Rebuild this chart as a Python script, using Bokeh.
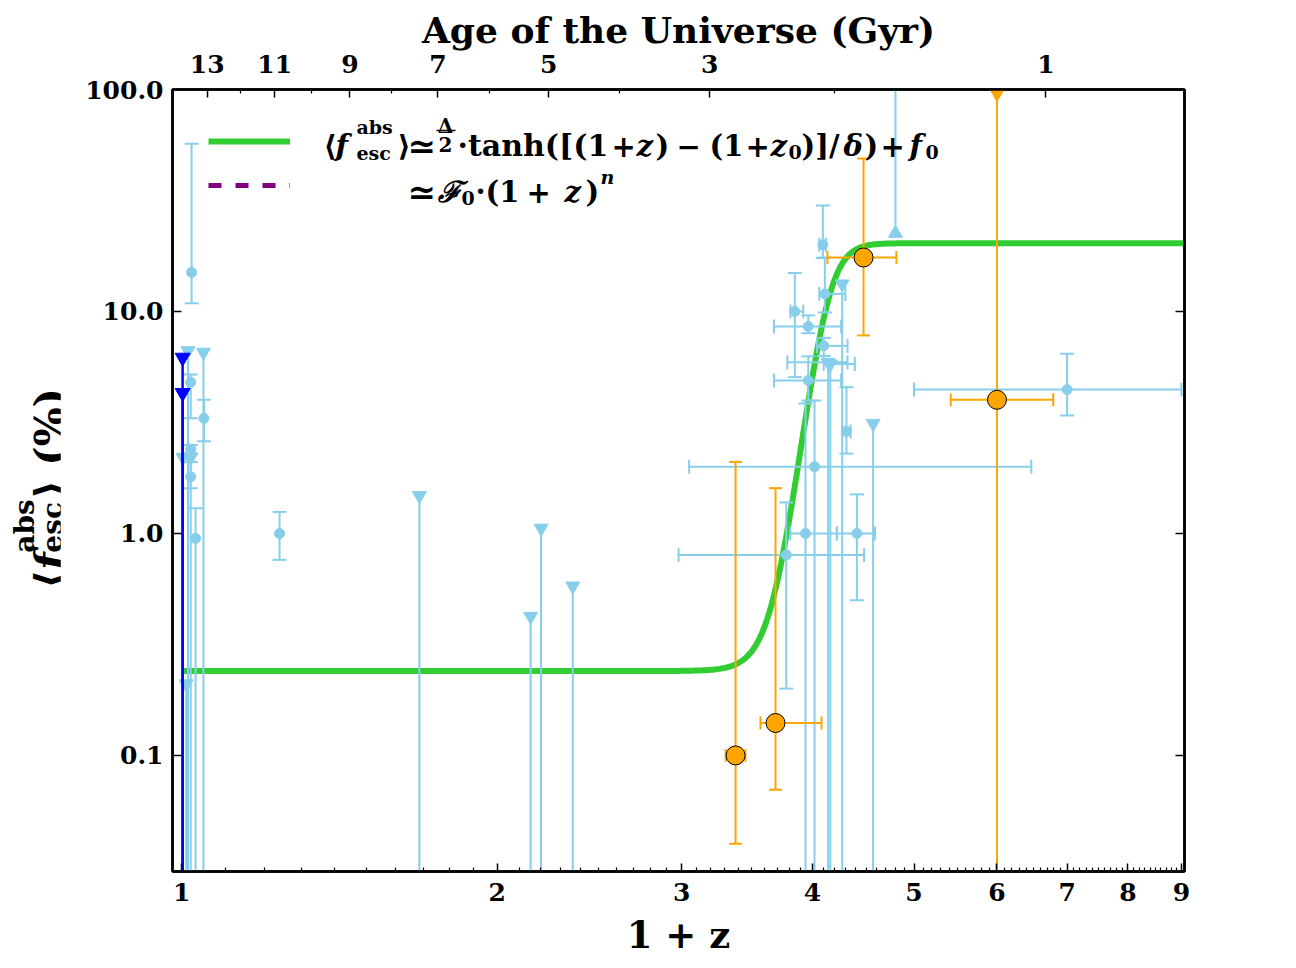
import numpy as np
from bokeh.plotting import figure
from bokeh.models import (Range1d, LogAxis, FixedTicker, Label, Legend, LegendItem, Arrow, Div)
from bokeh.layouts import row
from bokeh.embed import file_html
from bokeh.resources import INLINE

nan = float("nan")

# ---------------- data ----------------
# light-blue measurements (1+z, f_esc %, lower/upper y, lower/upper x)
lb_x   = [1.022, 1.020, 1.050, 1.020, 1.020, 1.031, 1.24, 4.092, 4.11, 3.848, 3.963, 4.10, 3.963, 4.31, 4.018, 3.776, 3.939, 4.41, 7.0]
lb_y   = [15.0, 4.8, 3.3, 2.4, 1.8, 0.95, 1.0, 20.0, 12.0, 10.0, 8.56, 7.0, 4.89, 2.88, 2.0, 0.8, 1.0, 1.0, 4.45]
lb_ylo = [10.9, 3.3, 2.6, 2.3, 1.6, 0.01, 0.76, 17.4, 9.9, 5.06, 7.98, 6.3, 3.97, 2.29, 0.01, 0.2, 0.01, 0.5, 3.4]
lb_yhi = [57.0, 5.2, 4.0, 2.5, 2.1, 1.3, 1.25, 30.0, 17.5, 14.9, 9.6, 7.6, 6.28, 4.56, 3.97, 1.38, 3.85, 1.5, 6.45]
lb_xlo = [nan, nan, nan, nan, nan, nan, nan, 4.06, 4.06, 3.81, 3.675, 4.04, 3.675, 4.27, 3.05, 2.98, 3.81, 4.22, 5.0]
lb_xhi = [nan, nan, nan, nan, nan, nan, nan, 4.12, 4.30, 3.92, 4.26, 4.32, 4.26, 4.35, 6.47, 4.48, 4.22, 4.59, 9.0]

# light-blue upper limits
lb_ul_x   = [1.003, 1.014, 1.049, 1.020, 1.010, 1.686, 2.153, 2.203, 2.362, 4.14, 4.16, 4.27, 4.57]
lb_ul_y   = [2.2, 6.65, 6.55, 2.2, 0.21, 1.48, 0.423, 1.056, 0.579, 5.9, 5.8, 13.3, 3.13]
lb_ul_xlo = [nan, nan, nan, nan, nan, nan, nan, nan, nan, 3.785, 4.10, nan, nan]
lb_ul_xhi = [nan, nan, nan, nan, nan, nan, nan, nan, nan, 4.32, 4.39, nan, nan]

# light-blue lower limit
lb_ll_x = [4.80]
lb_ll_y = [22.5]

# blue upper limits
blue_ul_x = [1.002, 1.002]
blue_ul_y = [6.2, 4.3]

# orange points
or_x   = [3.378, 3.688, 4.475, 6.0]
or_y   = [0.10, 0.14, 17.5, 4.0]
or_ylo = [0.04, 0.07, 7.8, nan]
or_yhi = [2.1, 1.6, 48.9, nan]
or_xlo = [3.305, 3.568, 4.134, 5.42]
or_xhi = [3.452, 4.08, 4.81, 6.79]
or_ul_x = [6.0]
or_ul_y = [96.0]

# tanh model parameters
TANH_DELTA = 20.06
TANH_F0 = 10.27
TANH_ZP1_0 = 4.12
TANH_WIDTH = 0.21

# axes
x_ticks = [1, 2, 3, 4, 5, 6, 7, 8, 9]
x_tick_labels = ["1", "2", "3", "4", "5", "6", "7", "8", "9"]
y_ticks = [0.1, 1.0, 10.0, 100.0]
y_tick_labels = ["0.1", "1.0", "10.0", "100.0"]
age_major = [13, 11, 9, 7, 5, 3, 1]
age_minor = [12, 10, 8, 6, 4, 2]
H0, OM, OL = 67.7, 0.31, 0.69

# ---------------- helpers ----------------
LB = "#87CEEB"; BLUE = "#0000FF"; ORANGE = "#FFA500"; GREEN = "#32CD32"; PURPLE = "#800080"
FONT = "DejaVu Serif"
Y_MIN, Y_MAX = 0.03, 100.0
X_MIN, X_MAX = 0.98, 9.06
DIV_W = 60
H_TOTAL = 963


def zp1_of_age(t):
    tH = 977.8 / H0
    a32 = np.sqrt(OM / OL) * np.sinh(1.5 * np.sqrt(OL) * np.asarray(t, float) / tH)
    return a32 ** (-2.0 / 3.0)


def arr(a):
    return np.asarray(a, dtype=float)


p = figure(width=1288 - DIV_W, height=H_TOTAL, x_axis_type="log", y_axis_type="log",
           x_range=Range1d(X_MIN, X_MAX), y_range=Range1d(Y_MIN, Y_MAX),
           output_backend="svg", toolbar_location=None,
           min_border_left=172 - DIV_W, min_border_right=104, min_border_top=89, min_border_bottom=92)
p.margin = 0
p.xgrid.visible = False
p.ygrid.visible = False
p.outline_line_color = "black"
p.outline_line_width = 2.5
p.background_fill_color = "white"

# ---- model curve
zz = np.geomspace(1.0, X_MAX, 600)
ff = TANH_DELTA / 2 * np.tanh((zz - TANH_ZP1_0) / TANH_WIDTH) + TANH_F0
green = p.line(zz, ff, line_color=GREEN, line_width=6)
purple = p.line([nan, nan], [nan, nan], line_color=PURPLE, line_width=5, line_dash="13 14")


def errbars(x, y, ylo, yhi, xlo, xhi, color, lw=2, cap=14):
    x, y, ylo, yhi, xlo, xhi = map(arr, (x, y, ylo, yhi, xlo, xhi))
    m = ~np.isnan(ylo)
    if m.any():
        p.segment(x[m], ylo[m], x[m], yhi[m], line_color=color, line_width=lw)
        p.scatter(np.r_[x[m], x[m]], np.r_[ylo[m], yhi[m]], marker="dash", size=cap,
                  line_color=color, line_width=lw)
    m = ~np.isnan(xlo)
    if m.any():
        p.segment(xlo[m], y[m], xhi[m], y[m], line_color=color, line_width=lw)
        p.scatter(np.r_[xlo[m], xhi[m]], np.r_[y[m], y[m]], marker="dash", size=cap,
                  angle=np.pi / 2, line_color=color, line_width=lw)


def limits(x, y, color, upper=True, lw=2, size=14, xlo=None, xhi=None):
    x, y = arr(x), arr(y)
    end = np.full_like(y, Y_MIN if upper else Y_MAX)
    p.segment(x, y, x, end, line_color=color, line_width=lw)
    if xlo is not None:
        xlo, xhi = arr(xlo), arr(xhi)
        m = ~np.isnan(xlo)
        p.segment(xlo[m], y[m], xhi[m], y[m], line_color=color, line_width=lw)
        p.scatter(np.r_[xlo[m], xhi[m]], np.r_[y[m], y[m]], marker="dash", size=14,
                  angle=np.pi / 2, line_color=color, line_width=lw)
    p.scatter(x, y, marker="inverted_triangle" if upper else "triangle", size=size,
              fill_color=color, line_color=color)


# ---- light blue
errbars(lb_x, lb_y, lb_ylo, lb_yhi, lb_xlo, lb_xhi, LB)
limits(lb_ul_x, lb_ul_y, LB, True, xlo=lb_ul_xlo, xhi=lb_ul_xhi)
limits(lb_ll_x, lb_ll_y, LB, False)
p.scatter(lb_x, lb_y, marker="circle", size=10, fill_color=LB, line_color=LB)

# ---- blue
limits(blue_ul_x, blue_ul_y, BLUE, True, lw=2.5, size=15)

# ---- orange
limits(or_ul_x, or_ul_y, ORANGE, True, size=14)
errbars(or_x, or_y, or_ylo, or_yhi, or_xlo, or_xhi, ORANGE, lw=2, cap=13)
p.scatter(or_x, or_y, marker="circle", size=19, fill_color=ORANGE, line_color="black", line_width=1)

# ---------------- axes ----------------
def style_axis(ax):
    ax.axis_line_width = 2.5
    ax.axis_line_color = "black"
    ax.major_tick_in = 9
    ax.major_tick_out = 0
    ax.minor_tick_in = 4
    ax.minor_tick_out = 0
    ax.major_tick_line_width = 1.5
    ax.minor_tick_line_width = 1.2
    ax.major_label_text_font = FONT
    ax.major_label_text_font_style = "bold"
    ax.major_label_text_font_size = "25px"
    ax.major_label_text_color = "black"
    ax.axis_label_text_color = "black"
    ax.axis_label_text_font = FONT
    ax.axis_label_text_font_style = "bold"


xa = p.xaxis[0]
xa.ticker = FixedTicker(ticks=x_ticks,
                        minor_ticks=[i / 10 for i in range(11, 90) if i % 10 != 0])
xa.major_label_overrides = {float(t): s for t, s in zip(x_ticks, x_tick_labels)}
style_axis(xa)
xa.major_tick_in = 8
xa.major_label_standoff = 11
xa.axis_label = "1 + z"
xa.axis_label_text_font_size = "37px"
xa.axis_label_standoff = 9

ya = p.yaxis[0]
ya.ticker = FixedTicker(ticks=y_ticks, minor_ticks=[])
ya.major_label_overrides = {float(t): s for t, s in zip(y_ticks, y_tick_labels)}
style_axis(ya)
ya.major_label_standoff = 9

yr = LogAxis(ticker=FixedTicker(ticks=y_ticks, minor_ticks=[]),
             major_label_overrides={float(t): "" for t in y_ticks})
style_axis(yr)
p.add_layout(yr, "right")

age_pos_major = [float(v) for v in zp1_of_age(age_major)]
age_pos_minor = [float(v) for v in zp1_of_age(age_minor)]
top = LogAxis(ticker=FixedTicker(ticks=age_pos_major, minor_ticks=age_pos_minor),
              major_label_overrides={pos: str(a) for pos, a in zip(age_pos_major, age_major)})
style_axis(top)
top.major_tick_in = 8
top.major_label_standoff = 17
top.axis_label = "Age of the Universe (Gyr)"
top.axis_label_text_font_size = "36px"
top.axis_label_standoff = 1
p.add_layout(top, "above")

# ---------------- legend ----------------
legend = Legend(items=[LegendItem(label=" ", renderers=[green]),
                       LegendItem(label=" ", renderers=[purple])],
                location="top_left", margin=36, padding=0, spacing=12,
                glyph_width=82, glyph_height=32, label_text_font_size="8px",
                label_standoff=0, background_fill_alpha=0, border_line_alpha=0)
p.add_layout(legend)

FL, FB = 172, 871  # frame left / bottom in page pixels
M = 29  # legend main text size
S = 19  # legend script size


def txt(s, px, py, size, style="bold", align="left"):
    p.add_layout(Label(x=px - FL, y=FB - py, x_units="screen", y_units="screen", text=s,
                       text_font=FONT, text_font_size=f"{size}px", text_font_style=style,
                       text_color="black", text_align=align, text_baseline="alphabetic"))


# legend line 1
B1 = 145
txt("\u27e8", 323, B1, M)
txt("f", 335, B1, M, "bold italic")
txt("abs", 356, B1 - 19, S)
txt("esc", 356, B1 + 7, S)
txt("\u27e9", 397, B1, M)
txt("\u2243", 407, B1, 34)
txt("\u0394", 445, B1 - 20, 20, align="center")
p.add_layout(Arrow(end=None, x_start=436 - FL, y_start=FB - (B1 - 15), x_end=455 - FL,
                   y_end=FB - (B1 - 15), start_units="screen", end_units="screen",
                   line_width=1.5, line_color="black"))
txt("2", 445, B1 - 1, 20, align="center")
txt("\u00b7tanh([(1", 457, B1, 30)
txt("+", 611, B1, M)
txt("z", 636, B1, M, "bold italic")
txt(")", 655, B1, M)
txt("\u2212", 676, B1, M)
txt("(1", 709, B1, M)
txt("+", 745, B1, M)
txt("z", 770, B1, M, "bold italic")
txt("0", 788, B1 + 6, S)
txt(")]/", 801, B1, M)
txt("\u03b4", 843, B1, M, "bold italic")
txt(")", 864, B1, M)
txt("+", 880, B1, M)
txt("f", 909, B1, M, "bold italic")
txt("0", 925, B1 + 6, S)

# legend line 2
B2 = 191
txt("\u2243", 407, B2, 34)
txt("\u2131", 437, B2, M, "bold italic")
txt("0", 461, B2 + 6, S)
txt("\u00b7(1", 475, B2, M)
txt("+", 526, B2, M)
txt("z", 564, B2, M, "bold italic")
txt(")", 585, B2, M)
txt("n", 600, B2 - 15, S, "bold italic")

# ---------------- y-axis label (HTML, rotated) ----------------
ylab_html = (
    '<div style="width:' + str(DIV_W) + 'px;height:' + str(H_TOTAL) + 'px;display:flex;'
    'align-items:center;justify-content:center;padding-top:14px;padding-left:22px;'
    'box-sizing:border-box;">'
    '<div style="writing-mode:vertical-rl;transform:rotate(180deg);white-space:nowrap;'
    "font-family:'DejaVu Serif';font-weight:bold;font-size:41px;color:#000;line-height:1;\">"
    '\u27e8<i>f</i><span style="display:inline-block;font-size:28px;line-height:1.0;'
    'vertical-align:middle;">abs<br>esc</span>\u27e9&nbsp;(%)</div></div>')
ylab = Div(text=ylab_html, width=DIV_W, height=H_TOTAL, margin=0)

layout = row(ylab, p)
open("out.html", "w").write(file_html(layout, INLINE))
